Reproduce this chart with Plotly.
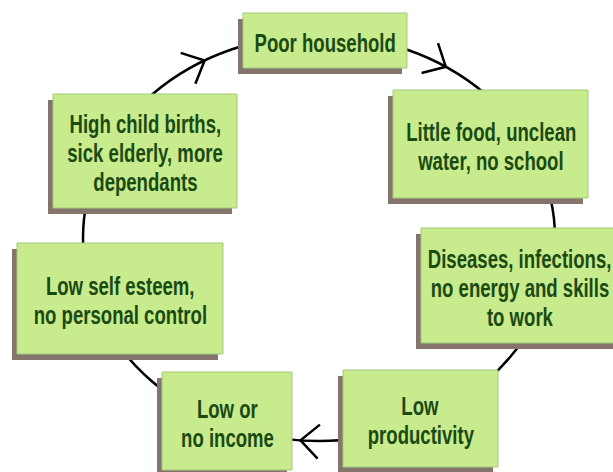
import math
import plotly.graph_objects as go

# ---- data: the cycle's stages (clockwise from top) ----
labels = [
    "Poor household",
    "Little food, unclean\nwater, no school",
    "Diseases, infections,\nno energy and skills\nto work",
    "Low\nproductivity",
    "Low or\nno income",
    "Low self esteem,\nno personal control",
    "High child births,\nsick elderly, more\ndependants",
]

# ---- layout geometry (pixel-like data coordinates) ----
boxes = [
    (243, 13, 407, 68),
    (393, 90, 588, 198),
    (421, 228, 624, 343),
    (343, 370, 498, 467),
    (162, 372, 292, 470),
    (17, 243, 223, 354),
    (53, 94, 237, 208),
]
ell_cx, ell_cy, ell_rx, ell_ry = 319, 238, 236, 203
arrow_angles = [-119, -57.5, 94.5]   # degrees on the ellipse, clockwise travel
W, H = 613, 472

GREEN = "#c8eb8d"
BORDER = "#a3c97c"
SHADOW = "#85746c"
TEXT = "#1a4a12"
FONT = "Liberation Sans, Arial, sans-serif"
FSIZE = 25.8
XSCALE = 0.72
LINE_H = 29

shapes = []
# cycle ellipse
shapes.append(dict(type="circle", xref="x", yref="y",
                   x0=ell_cx - ell_rx, x1=ell_cx + ell_rx,
                   y0=ell_cy - ell_ry, y1=ell_cy + ell_ry,
                   line=dict(color="black", width=2.5)))

# chevron arrowheads
for a in arrow_angles:
    t = math.radians(a)
    px = ell_cx + ell_rx * math.cos(t)
    py = ell_cy + ell_ry * math.sin(t)
    tx, ty = -ell_rx * math.sin(t), ell_ry * math.cos(t)
    n = math.hypot(tx, ty)
    bx, by = -tx / n, -ty / n
    L, half = 25, math.radians(43)
    pts = []
    for s in (half, -half):
        c, si = math.cos(s), math.sin(s)
        pts.append((px + L * (bx * c - by * si), py + L * (bx * si + by * c)))
    path = f"M {pts[0][0]:.1f},{pts[0][1]:.1f} L {px:.1f},{py:.1f} L {pts[1][0]:.1f},{pts[1][1]:.1f}"
    shapes.append(dict(type="path", path=path, xref="x", yref="y",
                       line=dict(color="black", width=2.5)))

annotations = []
for lab, (x0, y0, x1, y1) in zip(labels, boxes):
    # shadow
    shapes.append(dict(type="rect", xref="x", yref="y",
                       x0=x0 - 5, x1=x1 - 5, y0=y0 + 6, y1=y1 + 6,
                       fillcolor=SHADOW, line=dict(width=0)))
    # box
    shapes.append(dict(type="rect", xref="x", yref="y",
                       x0=x0, x1=x1, y0=y0, y1=y1,
                       fillcolor=GREEN, line=dict(color=BORDER, width=1)))
    lines = lab.split("\n")
    cx = (x0 + x1) / 2 - (3 if x1 > W else 0)
    cy = (y0 + y1) / 2
    n = len(lines)
    for i, ln in enumerate(lines):
        annotations.append(dict(
            x=cx, y=cy + (i - (n - 1) / 2) * LINE_H + 2,
            xref="x", yref="y", text="<b>" + ln + "</b>", showarrow=False,
            xanchor="center", yanchor="middle", borderpad=0,
            font=dict(family=FONT, size=FSIZE, color=TEXT)))

fig = go.Figure()
fig.update_layout(
    width=W, height=H,
    margin=dict(l=0, r=0, t=0, b=0),
    paper_bgcolor="white", plot_bgcolor="white",
    xaxis=dict(range=[0, W], visible=False, fixedrange=True),
    yaxis=dict(range=[H, 0], visible=False, fixedrange=True),
    shapes=shapes, annotations=annotations,
    showlegend=False,
)

post = (
    "document.body.style.margin='0';"
    "document.body.style.overflow='hidden';"
    "document.querySelectorAll('text.annotation-text').forEach(function(e){"
    "e.style.transformBox='fill-box';e.style.transformOrigin='center';"
    f"e.style.transform='scale({XSCALE},1)';"
    "});"
)
fig.write_html("out.html", post_script=post, config={"staticPlot": True})
